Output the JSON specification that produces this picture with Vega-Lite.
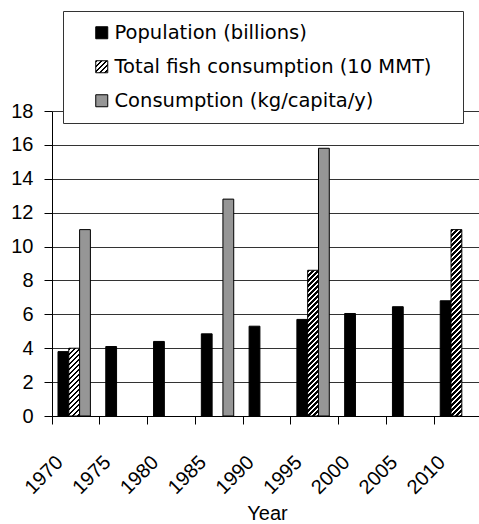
{
  "$schema": "https://vega.github.io/schema/vega-lite/v6.json",
  "width": 430,
  "height": 305,
  "autosize": {"type": "none"},
  "padding": {"left": 52, "top": 111, "right": -3, "bottom": 108},
  "background": "white",
  "params": [
    {"name": "hs", "value": [
      {"offset":0,"color":"#000"},
      {"offset":0.0125,"color":"#000"},{"offset":0.0125,"color":"#fff"},
      {"offset":0.025,"color":"#fff"},{"offset":0.025,"color":"#000"},
      {"offset":0.0375,"color":"#000"},{"offset":0.0375,"color":"#fff"},
      {"offset":0.05,"color":"#fff"},{"offset":0.05,"color":"#000"},
      {"offset":0.0625,"color":"#000"},{"offset":0.0625,"color":"#fff"},
      {"offset":0.075,"color":"#fff"},{"offset":0.075,"color":"#000"},
      {"offset":0.0875,"color":"#000"},{"offset":0.0875,"color":"#fff"},
      {"offset":0.1,"color":"#fff"},{"offset":0.1,"color":"#000"},
      {"offset":0.1125,"color":"#000"},{"offset":0.1125,"color":"#fff"},
      {"offset":0.125,"color":"#fff"},{"offset":0.125,"color":"#000"},
      {"offset":0.1375,"color":"#000"},{"offset":0.1375,"color":"#fff"},
      {"offset":0.15,"color":"#fff"},{"offset":0.15,"color":"#000"},
      {"offset":0.1625,"color":"#000"},{"offset":0.1625,"color":"#fff"},
      {"offset":0.175,"color":"#fff"},{"offset":0.175,"color":"#000"},
      {"offset":0.1875,"color":"#000"},{"offset":0.1875,"color":"#fff"},
      {"offset":0.2,"color":"#fff"},{"offset":0.2,"color":"#000"},
      {"offset":0.2125,"color":"#000"},{"offset":0.2125,"color":"#fff"},
      {"offset":0.225,"color":"#fff"},{"offset":0.225,"color":"#000"},
      {"offset":0.2375,"color":"#000"},{"offset":0.2375,"color":"#fff"},
      {"offset":0.25,"color":"#fff"},{"offset":0.25,"color":"#000"},
      {"offset":0.2625,"color":"#000"},{"offset":0.2625,"color":"#fff"},
      {"offset":0.275,"color":"#fff"},{"offset":0.275,"color":"#000"},
      {"offset":0.2875,"color":"#000"},{"offset":0.2875,"color":"#fff"},
      {"offset":0.3,"color":"#fff"},{"offset":0.3,"color":"#000"},
      {"offset":0.3125,"color":"#000"},{"offset":0.3125,"color":"#fff"},
      {"offset":0.325,"color":"#fff"},{"offset":0.325,"color":"#000"},
      {"offset":0.3375,"color":"#000"},{"offset":0.3375,"color":"#fff"},
      {"offset":0.35,"color":"#fff"},{"offset":0.35,"color":"#000"},
      {"offset":0.3625,"color":"#000"},{"offset":0.3625,"color":"#fff"},
      {"offset":0.375,"color":"#fff"},{"offset":0.375,"color":"#000"},
      {"offset":0.3875,"color":"#000"},{"offset":0.3875,"color":"#fff"},
      {"offset":0.4,"color":"#fff"},{"offset":0.4,"color":"#000"},
      {"offset":0.4125,"color":"#000"},{"offset":0.4125,"color":"#fff"},
      {"offset":0.425,"color":"#fff"},{"offset":0.425,"color":"#000"},
      {"offset":0.4375,"color":"#000"},{"offset":0.4375,"color":"#fff"},
      {"offset":0.45,"color":"#fff"},{"offset":0.45,"color":"#000"},
      {"offset":0.4625,"color":"#000"},{"offset":0.4625,"color":"#fff"},
      {"offset":0.475,"color":"#fff"},{"offset":0.475,"color":"#000"},
      {"offset":0.4875,"color":"#000"},{"offset":0.4875,"color":"#fff"},
      {"offset":0.5,"color":"#fff"},{"offset":0.5,"color":"#000"},
      {"offset":0.5125,"color":"#000"},{"offset":0.5125,"color":"#fff"},
      {"offset":0.525,"color":"#fff"},{"offset":0.525,"color":"#000"},
      {"offset":0.5375,"color":"#000"},{"offset":0.5375,"color":"#fff"},
      {"offset":0.55,"color":"#fff"},{"offset":0.55,"color":"#000"},
      {"offset":0.5625,"color":"#000"},{"offset":0.5625,"color":"#fff"},
      {"offset":0.575,"color":"#fff"},{"offset":0.575,"color":"#000"},
      {"offset":0.5875,"color":"#000"},{"offset":0.5875,"color":"#fff"},
      {"offset":0.6,"color":"#fff"},{"offset":0.6,"color":"#000"},
      {"offset":0.6125,"color":"#000"},{"offset":0.6125,"color":"#fff"},
      {"offset":0.625,"color":"#fff"},{"offset":0.625,"color":"#000"},
      {"offset":0.6375,"color":"#000"},{"offset":0.6375,"color":"#fff"},
      {"offset":0.65,"color":"#fff"},{"offset":0.65,"color":"#000"},
      {"offset":0.6625,"color":"#000"},{"offset":0.6625,"color":"#fff"},
      {"offset":0.675,"color":"#fff"},{"offset":0.675,"color":"#000"},
      {"offset":0.6875,"color":"#000"},{"offset":0.6875,"color":"#fff"},
      {"offset":0.7,"color":"#fff"},{"offset":0.7,"color":"#000"},
      {"offset":0.7125,"color":"#000"},{"offset":0.7125,"color":"#fff"},
      {"offset":0.725,"color":"#fff"},{"offset":0.725,"color":"#000"},
      {"offset":0.7375,"color":"#000"},{"offset":0.7375,"color":"#fff"},
      {"offset":0.75,"color":"#fff"},{"offset":0.75,"color":"#000"},
      {"offset":0.7625,"color":"#000"},{"offset":0.7625,"color":"#fff"},
      {"offset":0.775,"color":"#fff"},{"offset":0.775,"color":"#000"},
      {"offset":0.7875,"color":"#000"},{"offset":0.7875,"color":"#fff"},
      {"offset":0.8,"color":"#fff"},{"offset":0.8,"color":"#000"},
      {"offset":0.8125,"color":"#000"},{"offset":0.8125,"color":"#fff"},
      {"offset":0.825,"color":"#fff"},{"offset":0.825,"color":"#000"},
      {"offset":0.8375,"color":"#000"},{"offset":0.8375,"color":"#fff"},
      {"offset":0.85,"color":"#fff"},{"offset":0.85,"color":"#000"},
      {"offset":0.8625,"color":"#000"},{"offset":0.8625,"color":"#fff"},
      {"offset":0.875,"color":"#fff"},{"offset":0.875,"color":"#000"},
      {"offset":0.8875,"color":"#000"},{"offset":0.8875,"color":"#fff"},
      {"offset":0.9,"color":"#fff"},{"offset":0.9,"color":"#000"},
      {"offset":0.9125,"color":"#000"},{"offset":0.9125,"color":"#fff"},
      {"offset":0.925,"color":"#fff"},{"offset":0.925,"color":"#000"},
      {"offset":0.9375,"color":"#000"},{"offset":0.9375,"color":"#fff"},
      {"offset":0.95,"color":"#fff"},{"offset":0.95,"color":"#000"},
      {"offset":0.9625,"color":"#000"},{"offset":0.9625,"color":"#fff"},
      {"offset":0.975,"color":"#fff"},{"offset":0.975,"color":"#000"},
      {"offset":0.9875,"color":"#000"},{"offset":0.9875,"color":"#fff"},
      {"offset":1,"color":"#fff"}
    ]}
  ],
  "data": {
    "values": [
      {"year": "1970", "series": "Population (billions)", "value": 3.8},
      {"year": "1975", "series": "Population (billions)", "value": 4.1},
      {"year": "1980", "series": "Population (billions)", "value": 4.4},
      {"year": "1985", "series": "Population (billions)", "value": 4.85},
      {"year": "1990", "series": "Population (billions)", "value": 5.3},
      {"year": "1995", "series": "Population (billions)", "value": 5.7},
      {"year": "2000", "series": "Population (billions)", "value": 6.05},
      {"year": "2005", "series": "Population (billions)", "value": 6.45},
      {"year": "2010", "series": "Population (billions)", "value": 6.8},
      {"year": "1970", "series": "Total fish consumption (10 MMT)", "value": 4.0},
      {"year": "1995", "series": "Total fish consumption (10 MMT)", "value": 8.6},
      {"year": "2010", "series": "Total fish consumption (10 MMT)", "value": 11.0},
      {"year": "1970", "series": "Consumption (kg/capita/y)", "value": 11.0},
      {"year": "1985", "series": "Consumption (kg/capita/y)", "value": 12.8},
      {"year": "1995", "series": "Consumption (kg/capita/y)", "value": 15.8}
    ]
  },
  "mark": {"type": "bar", "stroke": "#000", "strokeWidth": 1, "opacity": 1},
  "encoding": {
    "x": {
      "field": "year", "type": "nominal", "sort": null,
      "scale": {"paddingInner": 0, "paddingOuter": 0},
      "axis": {
        "title": "Year",
        "bandPosition": 0,
        "labelAngle": -45,
        "labelAlign": "right",
        "labelBaseline": "middle",
        "labelOffset": -16,
        "labelPadding": 35,
        "labelOverlap": false,
        "tickSize": 8,
        "titlePadding": 6
      }
    },
    "xOffset": {
      "field": "series", "type": "nominal",
      "scale": {"domain": ["Population (billions)", "Total fish consumption (10 MMT)", "Consumption (kg/capita/y)"], "paddingInner": 0, "paddingOuter": 0.712, "align": 0.39}
    },
    "y": {
      "field": "value", "type": "quantitative",
      "scale": {"domain": [0, 18], "nice": false},
      "axis": {
        "title": null,
        "values": [0, 2, 4, 6, 8, 10, 12, 14, 16, 18],
        "grid": true,
        "tickSize": 8,
        "labelPadding": 11
      }
    },
    "color": {
      "condition": [
        {"test": "datum.series === 'Total fish consumption (10 MMT)' && datum.year === '1970'", "value": {"expr": "{gradient:'linear',x1:0,y1:0,x2:0.4585,y2:2.8778,stops:hs}"}},
        {"test": "datum.series === 'Total fish consumption (10 MMT)' && datum.year === '1995'", "value": {"expr": "{gradient:'linear',x1:0,y1:0,x2:0.1012,y2:1.365,stops:hs}"}},
        {"test": "datum.series === 'Total fish consumption (10 MMT)' && datum.year === '2010'", "value": {"expr": "{gradient:'linear',x1:0,y1:0,x2:0.06197,y2:1.0694,stops:hs}"}}
      ],
      "field": "series", "type": "nominal",
      "scale": {
        "domain": ["Population (billions)", "Total fish consumption (10 MMT)", "Consumption (kg/capita/y)"],
        "range": ["#000000", {"expr": "{gradient:'linear',x1:0,y1:0,x2:8.333,y2:8.333,stops:hs}"}, "#969696"]
      },
      "legend": {
        "title": null,
        "orient": "none",
        "legendX": 11,
        "legendY": -100,
        "labelExpr": "datum.label + '\u00a0\u00a0\u00a0\u200b'"
      }
    }
  },
  "config": {
    "view": {"stroke": null},
    "axis": {
      "labelFont": "Liberation Sans",
      "labelFontSize": 20,
      "labelColor": "#000",
      "titleFont": "Liberation Sans",
      "titleFontSize": 20,
      "titleFontWeight": "normal",
      "titleColor": "#000",
      "domainColor": "#000",
      "tickColor": "#000",
      "gridColor": "#333",
      "gridOpacity": 1,
      "domainWidth": 1,
      "tickWidth": 1
    },
    "legend": {
      "fillColor": "#fff",
      "strokeColor": "#333",
      "padding": 12,
      "rowPadding": 13,
      "labelFont": "DejaVu Sans",
      "labelFontSize": 19.5,
      "labelColor": "#000",
      "labelLimit": 600,
      "symbolType": "square",
      "symbolSize": 144,
      "symbolStrokeColor": "#000",
      "symbolStrokeWidth": 1,
      "symbolOpacity": 1,
      "symbolOffset": 17,
      "labelOffset": 3
    }
  }
}
